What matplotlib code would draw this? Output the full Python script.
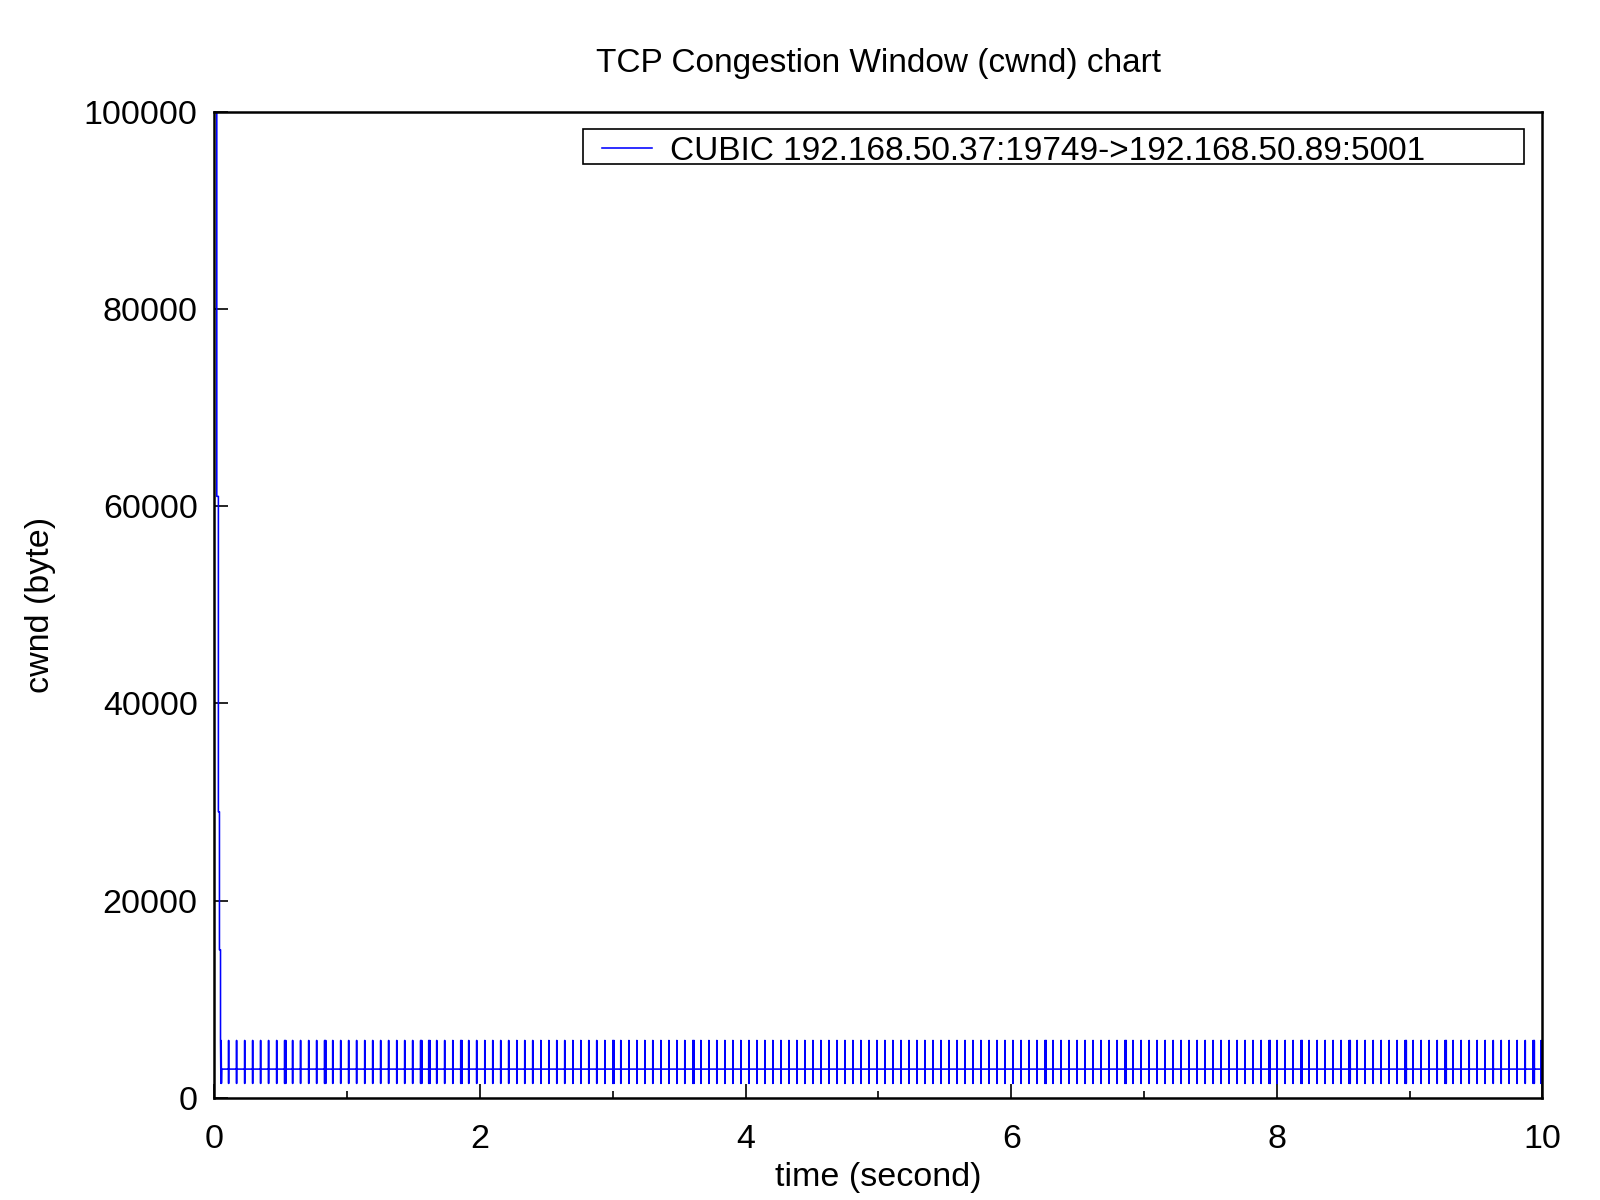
import matplotlib

matplotlib.use("Agg")
import matplotlib.pyplot as plt
from matplotlib.patches import Rectangle
from matplotlib.ticker import MultipleLocator

plt.rcParams["font.family"] = ["Liberation Sans", "DejaVu Sans"]

# slow-start burst right after the connection opens
init_time = [0.012, 0.018, 0.018, 0.030, 0.030, 0.038, 0.038, 0.046, 0.046, 0.049, 0.051, 0.053, 0.055]
init_cwnd = [100000, 100000, 61000, 61000, 29000, 29000, 15000, 15000, 5792, 1448, 5792, 1448, 2896]

# steady state: cwnd sits at 2 MSS and flicks between 4 MSS and 1 MSS
cwnd_base = 2896
cwnd_high = 5792
cwnd_low = 1448

spike_times = [
    0.107, 0.167, 0.228, 0.288, 0.348, 0.408, 0.469, 0.529, 0.589, 0.649,
    0.710, 0.770, 0.830, 0.891, 0.951, 1.011, 1.071, 1.132, 1.192, 1.252,
    1.312, 1.373, 1.433, 1.493, 1.553, 1.614, 1.674, 1.734, 1.795, 1.855,
    1.915, 1.975, 2.036, 2.096, 2.156, 2.216, 2.277, 2.337, 2.397, 2.458,
    2.518, 2.578, 2.638, 2.699, 2.759, 2.819, 2.879, 2.940, 3.000, 3.060,
    3.121, 3.181, 3.241, 3.301, 3.362, 3.422, 3.482, 3.542, 3.603, 3.663,
    3.723, 3.783, 3.844, 3.904, 3.964, 4.025, 4.085, 4.145, 4.205, 4.266,
    4.326, 4.386, 4.446, 4.507, 4.567, 4.627, 4.688, 4.748, 4.808, 4.868,
    4.929, 4.989, 5.049, 5.109, 5.170, 5.230, 5.290, 5.350, 5.411, 5.471,
    5.531, 5.592, 5.652, 5.712, 5.772, 5.833, 5.893, 5.953, 6.013, 6.074,
    6.134, 6.194, 6.255, 6.315, 6.375, 6.435, 6.496, 6.556, 6.616, 6.676,
    6.737, 6.797, 6.857, 6.917, 6.978, 7.038, 7.098, 7.159, 7.219, 7.279,
    7.339, 7.400, 7.460, 7.520, 7.580, 7.641, 7.701, 7.761, 7.821, 7.882,
    7.942, 8.002, 8.063, 8.123, 8.183, 8.243, 8.304, 8.364, 8.424, 8.484,
    8.545, 8.605, 8.665, 8.726, 8.786, 8.846, 8.906, 8.967, 9.027, 9.087,
    9.147, 9.208, 9.268, 9.328, 9.388, 9.449, 9.509, 9.569, 9.630, 9.690,
    9.750, 9.810, 9.871, 9.931, 9.991,
]
# extra spikes that land right next to a regular one
double_spikes = [0.537, 0.838, 1.561, 1.622, 1.863, 3.008, 3.611, 6.263, 6.865,
                 7.950, 8.191, 8.553, 8.975, 9.276, 9.939]

x_ticks = [0, 2, 4, 6, 8, 10]
y_ticks = [0, 20000, 40000, 60000, 80000, 100000]

label = "CUBIC 192.168.50.37:19749->192.168.50.89:5001"

times = list(init_time)
cwnd = list(init_cwnd)
for t in sorted(spike_times + double_spikes):
    times += [t, t, t, t]
    cwnd += [cwnd_base, cwnd_high, cwnd_low, cwnd_base]
times.append(10.0)
cwnd.append(cwnd_base)

fig = plt.figure(figsize=(16, 12), dpi=100)
ax = fig.add_axes([0.134, 0.0853, 0.830, 0.8214])
ax.plot(times, cwnd, color="#0000ff", linewidth=1.15, label=label)

ax.set_xlim(0, 10)
ax.set_ylim(0, 100000)
ax.set_xticks(x_ticks)
ax.set_yticks(y_ticks)
ax.xaxis.set_minor_locator(MultipleLocator(1))
ax.tick_params(axis="both", which="major", direction="in", length=10, width=1.2,
               labelsize=24.5, top=False, right=False)
ax.tick_params(axis="x", which="major", pad=19)
ax.tick_params(axis="y", which="major", pad=12)
ax.tick_params(axis="x", which="minor", direction="in", length=5, width=1.2, top=False)
for spine in ax.spines.values():
    spine.set_linewidth(1.8)

ax.set_title("TCP Congestion Window (cwnd) chart", fontsize=24, pad=29)
ax.set_xlabel("time (second)", fontsize=24.5, labelpad=5)
ax.set_ylabel("cwnd (byte)", fontsize=24.5, labelpad=20)

# gnuplot-style key: plain box, wider than its text
ax.add_patch(Rectangle((0.2773, 0.9469), 0.7091, 0.0363, transform=ax.transAxes,
                       fill=False, edgecolor="black", linewidth=1.2, zorder=5))
ax.legend(loc="center left", bbox_to_anchor=(0.2918, 0.9600), fontsize=24,
          frameon=False, handlelength=1.5, handletextpad=0.55, borderpad=0.0,
          borderaxespad=0.0)

fig.savefig("out.png", dpi=100)
